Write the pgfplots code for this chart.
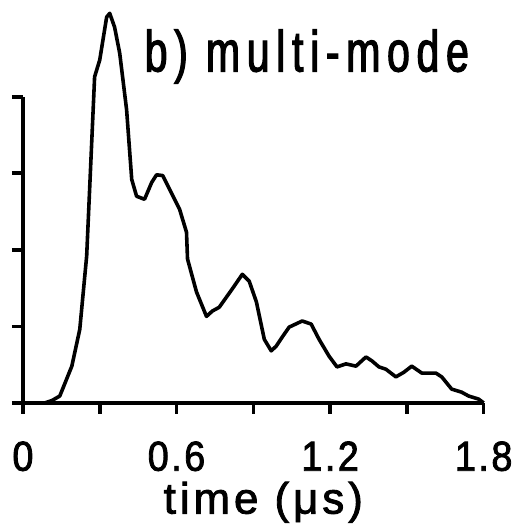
\documentclass[border=0pt]{standalone}
\usepackage{fontspec}
\setmainfont{Liberation Sans}
\newfontfamily\titlefont{Liberation Sans}[FakeStretch=0.71, LetterSpace=11.5, FakeBold=2]
\newfontfamily\tickfont{Liberation Sans}[FakeStretch=0.9, LetterSpace=6, FakeBold=2]
\newfontfamily\labfont{Liberation Sans}[LetterSpace=9, FakeBold=2]
\usepackage{pgfplots}
\pgfplotsset{compat=1.18}
\begin{document}
\begin{tikzpicture}
\begin{axis}[
  scale only axis,
  width=462pt, height=307pt,
  xmin=0, xmax=1.8, ymin=0, ymax=4,
  axis lines=left,
  axis line style={-, line width=3.6pt},
  clip=false,
  tick align=outside,
  major tick length=11pt,
  tick style={line width=3.6pt, black},
  xtick={0,0.3,0.6,0.9,1.2,1.5,1.8},
  xticklabels={0,,0.6,,1.2,,1.8},
  ytick={0,1,2,3,4},
  yticklabels={},
  xticklabel style={font=\tickfont\fontsize{42}{42}\selectfont, anchor=base, yshift=-57pt},
  xlabel={time (μs)},
  xlabel style={font=\labfont\fontsize{44}{44}\selectfont, at={(axis description cs:0.5,0)}, anchor=base, yshift=-111pt, xshift=10pt},
]
\addplot[black, line width=3.6pt, line join=round] coordinates {
(0,0) (0.086,0) (0.113,0.03) (0.144,0.09) (0.191,0.48) (0.222,0.96) (0.249,1.92)
(0.280,4.26) (0.300,4.48) (0.327,5.04) (0.339,5.09) (0.358,4.91) (0.378,4.57)
(0.405,3.83) (0.425,2.92) (0.444,2.70) (0.475,2.66) (0.503,2.88) (0.522,2.98)
(0.546,2.97) (0.573,2.79) (0.612,2.53) (0.639,2.23) (0.643,1.88) (0.678,1.45)
(0.717,1.13) (0.740,1.20) (0.767,1.25) (0.818,1.49) (0.857,1.68) (0.884,1.59)
(0.912,1.32) (0.943,0.83) (0.970,0.68) (0.989,0.74) (1.013,0.86) (1.040,0.99)
(1.091,1.07) (1.126,1.03) (1.157,0.83) (1.196,0.61) (1.227,0.47) (1.262,0.51)
(1.301,0.48) (1.340,0.60) (1.363,0.55) (1.391,0.47) (1.418,0.44) (1.457,0.34)
(1.488,0.40) (1.519,0.48) (1.558,0.39) (1.613,0.39) (1.636,0.34) (1.675,0.18)
(1.714,0.14) (1.741,0.09) (1.780,0.05) (1.800,0)
};
\node[anchor=base west, inner sep=0pt, font=\titlefont\fontsize{58}{58}\selectfont] at (axis cs:0.475,4.33) {b) multi-mode};
\end{axis}
\path (-23pt,-122pt) rectangle (495pt,404pt);
\end{tikzpicture}
\end{document}
